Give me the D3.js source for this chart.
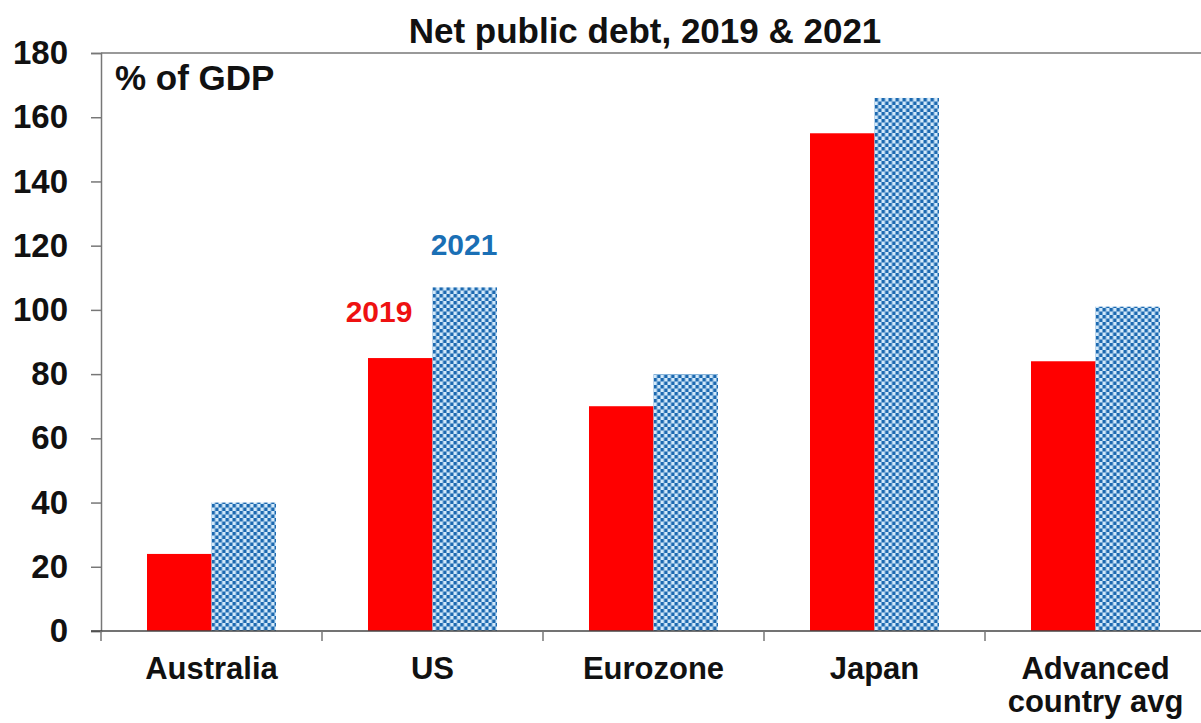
<!DOCTYPE html>
<html>
<head>
<meta charset="utf-8">
<script src="https://cdn.jsdelivr.net/npm/d3@7"></script>
<style>
  body { margin: 0; background: #fff; }
  svg { display: block; font-family: "Liberation Sans", Arial, sans-serif; font-weight: bold; }
</style>
</head>
<body>
<div id="chart"></div>
<script>
// chart data
const categories = ["Australia", "US", "Eurozone", "Japan", "Advanced country avg"];
const debt2019 = [24, 85, 70, 155, 84];
const debt2021 = [40, 107, 80, 166, 101];
const yTicks = [0, 20, 40, 60, 80, 100, 120, 140, 160, 180];

const width = 1201;
const height = 723;
const marginTop = 53;
const marginLeft = 101;
const marginBottom = 92;
const plotRight = 1206;

const svg = d3.select("#chart").append("svg")
    .attr("width", width)
    .attr("height", height);

//checkered fill for the 2021 bars
const defs = svg.append("defs");
const pat = defs.append("pattern")
    .attr("id", "check")
    .attr("patternUnits", "userSpaceOnUse")
    .attr("width", 7)
    .attr("height", 7);
pat.append("rect").attr("width", 7).attr("height", 7).attr("fill", "#d2e9fa");
pat.append("rect").attr("width", 3.5).attr("height", 3.5).attr("fill", "#1c69b0");
pat.append("rect").attr("x", 3.5).attr("y", 3.5).attr("width", 3.5).attr("height", 3.5).attr("fill", "#1c69b0");

const x = d3.scaleBand(categories, [marginLeft, plotRight]);
const y = d3.scaleLinear([0, 180], [height - marginBottom, marginTop]);
const barW = 64.5;

//top border of plot
svg.append("line")
    .attr("x1", marginLeft).attr("x2", width)
    .attr("y1", y(180)).attr("y2", y(180))
    .attr("stroke", "#777").attr("stroke-width", 1.5);

//bars
const groups = svg.append("g")
    .selectAll("g")
    .data(categories)
    .join("g")
    .attr("transform", d => `translate(${x(d) + x.bandwidth() / 2},0)`);

groups.append("rect")
    .attr("x", -barW)
    .attr("width", barW)
    .attr("y", (d, i) => y(debt2019[i]))
    .attr("height", (d, i) => y(0) - y(debt2019[i]))
    .attr("fill", "#ff0000");

groups.append("rect")
    .attr("x", 0)
    .attr("width", barW)
    .attr("y", (d, i) => y(debt2021[i]))
    .attr("height", (d, i) => y(0) - y(debt2021[i]))
    .attr("fill", "url(#check)");

//y axis
const yAxis = svg.append("g")
    .attr("transform", `translate(${marginLeft},0)`)
    .call(d3.axisLeft(y).tickValues(yTicks).tickSize(10).tickPadding(23));
yAxis.select(".domain").attr("stroke", "#777").attr("stroke-width", 1.5);
yAxis.selectAll(".tick line").attr("stroke", "#777").attr("stroke-width", 1.5);
yAxis.selectAll(".tick text")
    .attr("font-size", 33)
    .attr("font-family", "Liberation Sans, Arial, sans-serif")
    .attr("font-weight", "bold")
    .attr("fill", "#111")
    .attr("dy", "0.32em");

//x axis with ticks at category boundaries
const xAxisG = svg.append("g");
xAxisG.append("line")
    .attr("x1", marginLeft - 10).attr("x2", width)
    .attr("y1", y(0)).attr("y2", y(0))
    .attr("stroke", "#444").attr("stroke-width", 1.5);
xAxisG.selectAll(".xt")
    .data(categories)
    .join("line")
    .attr("x1", d => x(d)).attr("x2", d => x(d))
    .attr("y1", y(0)).attr("y2", y(0) + 10)
    .attr("stroke", "#777").attr("stroke-width", 1.5);

//category labels
svg.append("g")
    .attr("font-size", 31)
    .attr("text-anchor", "middle")
    .attr("fill", "#111")
    .selectAll("text")
    .data(categories)
    .join("text")
    .attr("x", d => x(d) + x.bandwidth() / 2)
    .attr("y", 679)
    .each(function (d) {
        const t = d3.select(this);
        const parts = d === "Advanced country avg" ? ["Advanced", "country avg"] : [d];
        parts.forEach((p, i) => t.append("tspan")
            .attr("x", x(d) + x.bandwidth() / 2)
            .attr("dy", i === 0 ? 0 : 33)
            .text(p));
    });

//title
svg.append("text")
    .attr("x", 645)
    .attr("y", 43)
    .attr("text-anchor", "middle")
    .attr("font-size", 35)
    .attr("fill", "#111")
    .text("Net public debt, 2019 & 2021");

//unit label
svg.append("text")
    .attr("x", 115)
    .attr("y", 90)
    .attr("font-size", 35)
    .attr("fill", "#111")
    .text("% of GDP");

//series labels
svg.append("text")
    .attr("x", 379)
    .attr("y", 322)
    .attr("text-anchor", "middle")
    .attr("font-size", 30)
    .attr("fill", "#ee1111")
    .text("2019");

svg.append("text")
    .attr("x", 464)
    .attr("y", 255)
    .attr("text-anchor", "middle")
    .attr("font-size", 30)
    .attr("fill", "#1a6fb5")
    .text("2021");
</script>
</body>
</html>
